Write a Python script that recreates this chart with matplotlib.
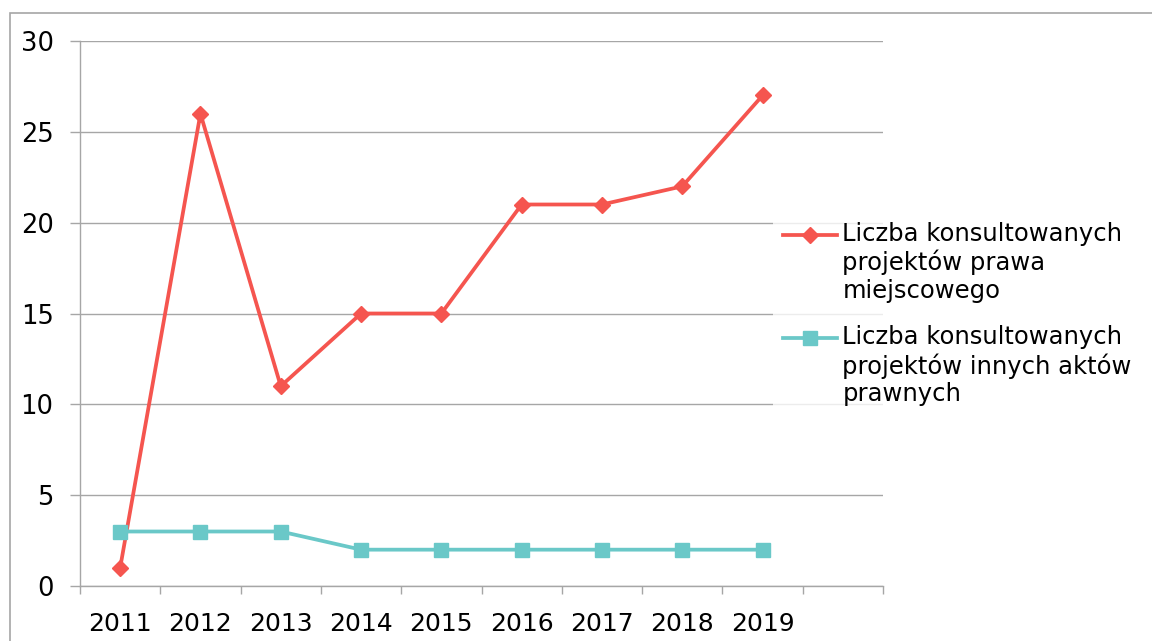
import matplotlib
matplotlib.use("Agg")
import matplotlib.pyplot as plt
from matplotlib.patches import Rectangle
from matplotlib.legend_handler import HandlerLine2D

years = ["2011", "2012", "2013", "2014", "2015", "2016", "2017", "2018", "2019"]
prawa_miejscowego = [1, 26, 11, 15, 15, 21, 21, 22, 27]
innych_aktow = [3, 3, 3, 2, 2, 2, 2, 2, 2]
label_1 = "Liczba konsultowanych\nprojektów prawa\nmiejscowego"
label_2 = "Liczba konsultowanych\nprojektów innych aktów\nprawnych"

RED = "#F5554F"
TEAL = "#6AC8C8"
GRID = "#A6A6A6"

plt.rcParams['font.family'] = ['DejaVu Sans']
W, H = 1152, 641
fig = plt.figure(figsize=(W / 100, H / 100), dpi=100)

# outer chart border (top and left visible)
fig.patches.append(Rectangle((10 / W, -0.2), 1.5, 1.2 - 13 / H, transform=fig.transFigure,
                             fill=False, edgecolor=GRID, linewidth=1.2))

ax = fig.add_axes([80 / W, 1 - 586 / H, (883 - 80) / W, (586 - 41) / H])

n_slots = 10
xpos = [i + 0.5 for i in range(len(years))]
ax.plot(xpos, prawa_miejscowego, color=RED, lw=2.7, marker='D', markersize=8,
        label=label_1, zorder=3)
ax.plot(xpos, innych_aktow, color=TEAL, lw=2.7, marker='s', markersize=10.5,
        label=label_2, zorder=3)

ax.set_xlim(0, n_slots)
ax.set_ylim(0, 30)
ax.set_yticks(range(0, 31, 5))
ax.set_xticks(range(0, n_slots + 1))
ax.set_xticklabels([])
ax.set_xticks(xpos, minor=True)
ax.set_xticklabels(years, minor=True)

ax.tick_params(axis='x', which='major', length=6, width=1, color=GRID, direction='out')
ax.tick_params(axis='x', which='minor', length=0, pad=19, labelsize=18)
ax.tick_params(axis='y', which='major', length=7, width=1, color=GRID, pad=12, labelsize=18.5)

ax.grid(axis='y', color=GRID, linewidth=1)
ax.set_axisbelow(True)
for s in ['top', 'right']:
    ax.spines[s].set_visible(False)
for s in ['left', 'bottom']:
    ax.spines[s].set_color(GRID)
    ax.spines[s].set_linewidth(1)

LEG_FS = 17.5


class TopHandler(HandlerLine2D):
    """Align the legend handle with the first line of a multi-line label."""
    def create_artists(self, legend, orig_handle, xdescent, ydescent, width, height,
                       fontsize, trans):
        arts = super().create_artists(legend, orig_handle, xdescent, ydescent, width,
                                      height, fontsize, trans)
        shift = 1.17 * fontsize
        for a in arts:
            a.set_ydata([y + shift for y in a.get_ydata()])
        return arts


leg = ax.legend(loc='upper left', bbox_to_anchor=(773 / W, 1 - 212 / H),
                bbox_transform=fig.transFigure, fontsize=LEG_FS, frameon=True,
                handlelength=2.25, handletextpad=0.2, borderpad=0.4, borderaxespad=0,
                labelspacing=0.9, fancybox=False, handler_map={plt.Line2D: TopHandler()})
leg.get_frame().set_facecolor('white')
leg.get_frame().set_edgecolor('none')

fig.savefig("out.png", dpi=100)
